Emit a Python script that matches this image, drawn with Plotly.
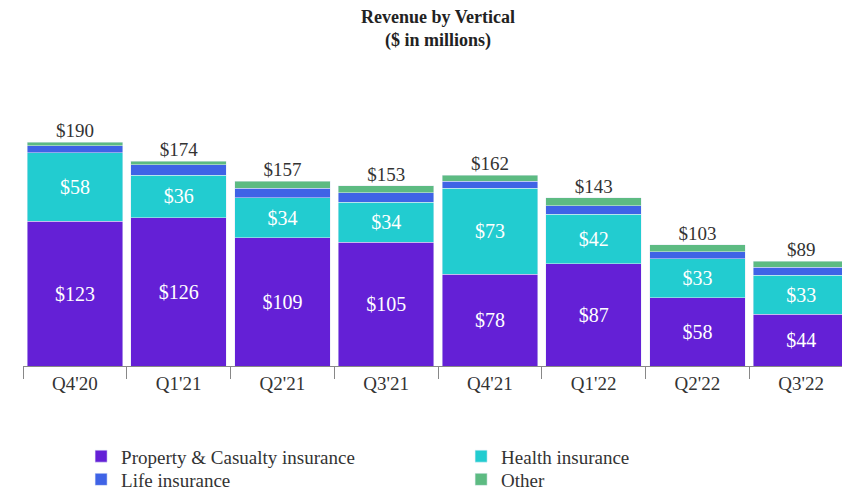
import plotly.graph_objects as go

quarters = ["Q4'20", "Q1'21", "Q2'21", "Q3'21", "Q4'21", "Q1'22", "Q2'22", "Q3'22"]
pc = [123, 126, 109, 105, 78, 87, 58, 44]
health = [58, 36, 34, 34, 73, 42, 33, 33]
life = [6, 9, 8, 8, 6, 7, 6, 7]
other = [3, 3, 6, 6, 5, 7, 6, 5]
totals = [190, 174, 157, 153, 162, 143, 103, 89]

font = "Liberation Serif"
fig = go.Figure()
fig.add_bar(x=quarters, y=pc, name="Property & Casualty insurance", marker_color="#6420D6",
            text=["$%d" % v for v in pc], textposition="inside", insidetextanchor="middle",
            textfont=dict(color="white", size=20, family=font), legend="legend")
fig.add_bar(x=quarters, y=health, name="Health insurance", marker_color="#22CCD0",
            text=["$%d" % v for v in health], textposition="inside", insidetextanchor="middle",
            textfont=dict(color="white", size=20, family=font), legend="legend")
fig.add_bar(x=quarters, y=life, name="Life insurance", marker_color="#3F63E6", legend="legend2")
fig.add_bar(x=quarters, y=other, name="Other", marker_color="#5DBB82", legend="legend2")
fig.add_scatter(x=quarters, y=totals, mode="text", text=["$%d" % v for v in totals],
                textposition="top center", textfont=dict(size=19, family=font, color="#333"),
                showlegend=False, hoverinfo="skip")

leg = dict(orientation="h", x=0.07, yanchor="middle", entrywidth=335,
           traceorder="normal", font=dict(size=19), bgcolor="rgba(0,0,0,0)")
fig.update_layout(
    width=850, height=500, barmode="stack", bargap=0.08,
    plot_bgcolor="white", paper_bgcolor="white",
    margin=dict(l=15, r=5, t=100, b=142),
    font=dict(family=font, size=19, color="#333"),
    uniformtext=dict(mode="show", minsize=10),
    legend=dict(leg, y=-0.35),
    legend2=dict(leg, y=-0.44),
    annotations=[dict(text="<b>Revenue by Vertical<br>($ in millions)</b>", x=0.5, y=1.4,
                      xref="paper", yref="paper", yanchor="top", showarrow=False,
                      font=dict(size=18, color="#222"))],
)
fig.update_xaxes(showline=True, linecolor="#888", ticks="outside", tickson="boundaries",
                 ticklen=12, tickcolor="#888", tickfont=dict(size=19))
fig.update_yaxes(visible=False, range=[0, 219])
fig.write_html("out.html")
